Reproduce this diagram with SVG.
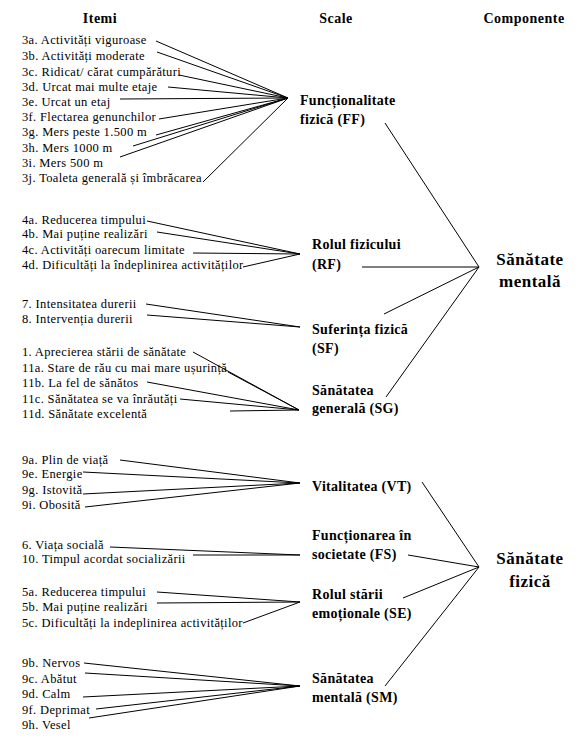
<svg xmlns="http://www.w3.org/2000/svg" width="579" height="738" viewBox="0 0 579 738">
<style>
  .hdr { font-family: "Liberation Serif", "Times New Roman", serif; font-weight: bold; font-size: 14px; letter-spacing: 0.5px; text-anchor: middle; fill: #000; }
  .item { font-family: "Liberation Serif", "Times New Roman", serif; font-size: 12.5px; letter-spacing: 0.35px; fill: #000; }
  .scale { font-family: "Liberation Serif", "Times New Roman", serif; font-weight: bold; font-size: 14px; letter-spacing: 0.3px; fill: #000; }
  .comp { font-family: "Liberation Serif", "Times New Roman", serif; font-weight: bold; font-size: 17px; letter-spacing: 0.5px; text-anchor: middle; fill: #000; }
  .conn line { stroke: #000; stroke-width: 1; fill: none; }
</style>
<rect width="579" height="738" fill="#fff"/>

<g id="headers">
  <text class="hdr" x="100" y="23">Itemi</text>
  <text class="hdr" x="336" y="23">Scale</text>
  <text class="hdr" x="524" y="23">Componente</text>
</g>

<g id="connectors" class="conn">
  <!-- FF items -->
  <line x1="156" y1="41" x2="288" y2="98"/>
  <line x1="157" y1="52" x2="288" y2="98"/>
  <line x1="179" y1="75" x2="288" y2="98"/>
  <line x1="168" y1="87" x2="288" y2="98"/>
  <line x1="120" y1="99" x2="288" y2="98"/>
  <line x1="159" y1="119" x2="288" y2="98"/>
  <line x1="156" y1="135" x2="288" y2="98"/>
  <line x1="133" y1="146" x2="288" y2="98"/>
  <line x1="120" y1="157" x2="288" y2="98"/>
  <line x1="203" y1="182" x2="288" y2="98"/>
  <!-- RF items -->
  <line x1="147" y1="221" x2="300" y2="254"/>
  <line x1="157" y1="232" x2="300" y2="254"/>
  <line x1="193" y1="253" x2="300" y2="254"/>
  <line x1="243" y1="267" x2="300" y2="254"/>
  <!-- SF items -->
  <line x1="146" y1="304" x2="300" y2="327"/>
  <line x1="147" y1="315" x2="300" y2="327"/>
  <!-- SG items -->
  <line x1="193" y1="352" x2="299" y2="410"/>
  <line x1="228" y1="372" x2="299" y2="410"/>
  <line x1="147" y1="382" x2="299" y2="410"/>
  <line x1="180" y1="399" x2="299" y2="410"/>
  <line x1="230" y1="411" x2="299" y2="410"/>
  <!-- scales to Sanatate mentala -->
  <line x1="385" y1="123" x2="479" y2="267"/>
  <line x1="362" y1="267" x2="479" y2="267"/>
  <line x1="384" y1="314" x2="479" y2="267"/>
  <line x1="386" y1="397" x2="479" y2="267"/>
  <!-- VT items -->
  <line x1="120" y1="460" x2="300" y2="483"/>
  <line x1="83" y1="472" x2="300" y2="483"/>
  <line x1="83" y1="494" x2="300" y2="483"/>
  <line x1="85" y1="507" x2="300" y2="483"/>
  <!-- FS items -->
  <line x1="110" y1="547" x2="300" y2="555"/>
  <line x1="193" y1="555" x2="300" y2="555"/>
  <!-- SE items -->
  <line x1="157" y1="592" x2="300" y2="602"/>
  <line x1="157" y1="603" x2="300" y2="602"/>
  <line x1="243" y1="623" x2="300" y2="602"/>
  <!-- SM items -->
  <line x1="84" y1="663" x2="300" y2="686"/>
  <line x1="85" y1="673" x2="300" y2="686"/>
  <line x1="83" y1="697" x2="300" y2="686"/>
  <line x1="96" y1="709" x2="300" y2="686"/>
  <line x1="89" y1="718" x2="300" y2="686"/>
  <!-- scales to Sanatate fizica -->
  <line x1="422" y1="482" x2="479" y2="567"/>
  <line x1="408" y1="555" x2="479" y2="567"/>
  <line x1="403" y1="598" x2="479" y2="567"/>
  <line x1="385" y1="686" x2="479" y2="567"/>
</g>

<g id="items-ff">
  <text class="item" x="22" y="44">3a. Activități viguroase</text>
  <text class="item" x="22" y="60">3b. Activități moderate</text>
  <text class="item" x="22" y="76">3c. Ridicat/ cărat cumpărături</text>
  <text class="item" x="22" y="91">3d. Urcat mai multe etaje</text>
  <text class="item" x="22" y="106">3e. Urcat un etaj</text>
  <text class="item" x="22" y="121">3f. Flectarea genunchilor</text>
  <text class="item" x="22" y="136">3g. Mers peste 1.500 m</text>
  <text class="item" x="22" y="152">3h. Mers 1000 m</text>
  <text class="item" x="22" y="167">3i. Mers 500 m</text>
  <text class="item" x="22" y="182">3j. Toaleta generală și îmbrăcarea</text>
</g>
<g id="items-rf">
  <text class="item" x="22" y="224">4a. Reducerea timpului</text>
  <text class="item" x="22" y="238">4b. Mai puține realizări</text>
  <text class="item" x="22" y="254">4c. Activități oarecum limitate</text>
  <text class="item" x="22" y="269">4d. Dificultăți la îndeplinirea activităților</text>
</g>
<g id="items-sf">
  <text class="item" x="22" y="308">7. Intensitatea durerii</text>
  <text class="item" x="22" y="323">8. Intervenția durerii</text>
</g>
<g id="items-sg">
  <text class="item" x="22" y="356">1. Aprecierea stării de sănătate</text>
  <text class="item" x="22" y="372">11a. Stare de rău cu mai mare ușurință</text>
  <text class="item" x="22" y="387">11b. La fel de sănătos</text>
  <text class="item" x="22" y="403">11c. Sănătatea se va înrăutăți</text>
  <text class="item" x="22" y="418">11d. Sănătate excelentă</text>
</g>
<g id="items-vt">
  <text class="item" x="22" y="464">9a. Plin de viață</text>
  <text class="item" x="22" y="478">9e. Energie</text>
  <text class="item" x="22" y="494">9g. Istovită</text>
  <text class="item" x="22" y="509">9i. Obosită</text>
</g>
<g id="items-fs">
  <text class="item" x="22" y="549">6. Viața socială</text>
  <text class="item" x="22" y="563">10. Timpul acordat socializării</text>
</g>
<g id="items-se">
  <text class="item" x="22" y="596">5a. Reducerea timpului</text>
  <text class="item" x="22" y="611">5b. Mai puține realizări</text>
  <text class="item" x="22" y="627">5c. Dificultăți la indeplinirea activităților</text>
</g>
<g id="items-sm">
  <text class="item" x="22" y="667">9b. Nervos</text>
  <text class="item" x="22" y="683">9c. Abătut</text>
  <text class="item" x="22" y="698">9d. Calm</text>
  <text class="item" x="22" y="714">9f. Deprimat</text>
  <text class="item" x="22" y="729">9h. Vesel</text>
</g>

<g id="scale-ff">
  <text class="scale" x="300" y="105">Funcționalitate</text>
  <text class="scale" x="300" y="124">fizică (FF)</text>
</g>
<g id="scale-rf">
  <text class="scale" x="312" y="249">Rolul fizicului</text>
  <text class="scale" x="312" y="269">(RF)</text>
</g>
<g id="scale-sf">
  <text class="scale" x="312" y="334">Suferința fizică</text>
  <text class="scale" x="312" y="353">(SF)</text>
</g>
<g id="scale-sg">
  <text class="scale" x="312" y="395">Sănătatea</text>
  <text class="scale" x="312" y="413">generală (SG)</text>
</g>
<g id="scale-vt">
  <text class="scale" x="312" y="491">Vitalitatea (VT)</text>
</g>
<g id="scale-fs">
  <text class="scale" x="312" y="540">Funcționarea în</text>
  <text class="scale" x="312" y="559">societate (FS)</text>
</g>
<g id="scale-se">
  <text class="scale" x="312" y="599">Rolul stării</text>
  <text class="scale" x="312" y="618">emoționale (SE)</text>
</g>
<g id="scale-sm">
  <text class="scale" x="312" y="683">Sănătatea</text>
  <text class="scale" x="312" y="702">mentală (SM)</text>
</g>

<g id="comp-mentala">
  <text class="comp" x="530" y="265">Sănătate</text>
  <text class="comp" x="530" y="287">mentală</text>
</g>
<g id="comp-fizica">
  <text class="comp" x="530" y="564">Sănătate</text>
  <text class="comp" x="530" y="587">fizică</text>
</g>
</svg>
